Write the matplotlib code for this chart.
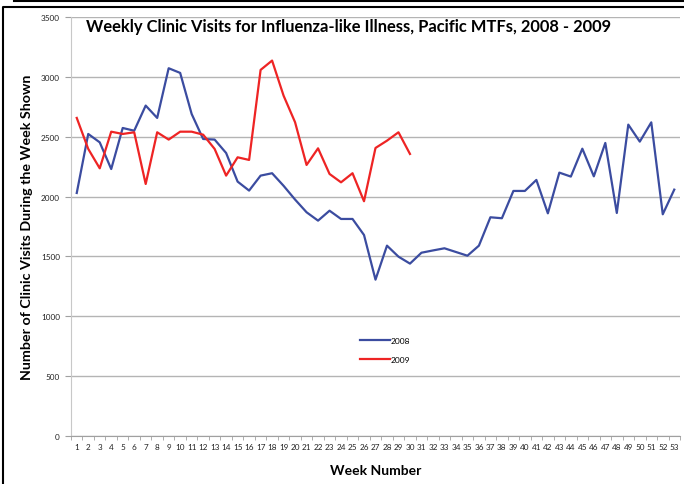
import matplotlib
matplotlib.use("Agg")
import matplotlib.pyplot as plt
from matplotlib.lines import Line2D

plt.rcParams["font.family"] = ["Lato", "DejaVu Sans"]

weeks = list(range(1, 54))
visits_2008 = [2030, 2523, 2453, 2230, 2573, 2550, 2760, 2657, 3072, 3033,
               2690, 2481, 2476, 2364, 2125, 2050, 2175, 2195, 2090, 1975,
               1869, 1799, 1882, 1813, 1813, 1679, 1306, 1590, 1498, 1440,
               1531, 1550, 1568, 1537, 1506, 1590, 1827, 1819, 2047, 2047,
               2139, 1860, 2200, 2167, 2400, 2169, 2448, 1863, 2601, 2459,
               2620, 1852, 2058]
weeks_2009 = list(range(1, 31))
visits_2009 = [2657, 2398, 2236, 2542, 2523, 2537, 2105, 2537, 2476, 2542,
               2542, 2517, 2398, 2175, 2328, 2306, 3058, 3136, 2843, 2621,
               2264, 2403, 2189, 2119, 2195, 1961, 2406, 2467, 2537, 2356]

W, H = 684, 485
fig = plt.figure(figsize=(W / 100, H / 100), dpi=100)
ax = fig.add_axes([71 / W, (H - 437) / H, 609 / W, 419 / H])

ax.plot(weeks, visits_2008, color="#3b4ca0", lw=1.6, label="2008")
ax.plot(weeks_2009, visits_2009, color="#ee2424", lw=1.6, label="2009")

ax.set_xlim(0.5, 53.5)
ax.set_ylim(0, 3500)
ax.set_yticks(range(0, 3501, 500))
ax.set_xticks(weeks)
ax.set_xticks([w + 0.5 for w in range(0, 54)], minor=True)
ax.tick_params(axis="x", which="major", length=0, labelsize=5.9, pad=5,
               labelcolor="#222222")
ax.tick_params(axis="x", which="minor", length=3, color="#a0a0a0", direction="out")
ax.tick_params(axis="y", length=4, color="#a0a0a0", labelsize=5.9, pad=4,
               labelcolor="#222222")

ax.grid(axis="y", color="#b4b4b4", lw=1)
ax.set_axisbelow(True)
for s in ("top", "right"):
    ax.spines[s].set_visible(False)
ax.spines["left"].set_color("#c8c8c8")
ax.spines["bottom"].set_color("#a0a0a0")

ax.set_xlabel("Week Number", fontsize=10, fontweight="bold", labelpad=10)
ax.set_ylabel("Number of Clinic Visits During the Week Shown", fontsize=10.3,
              fontweight="bold")
ax.yaxis.set_label_coords(-38 / 609, 0.50)
fig.text(86 / W, 1 - 27 / H, "Weekly Clinic Visits for Influenza-like Illness, Pacific MTFs, 2008 - 2009",
         fontsize=11.9, fontweight="bold", va="center", ha="left")

ax.legend(loc="upper left", bbox_to_anchor=((352 - 71) / 609, (437 - 330) / 419),
          frameon=False, fontsize=6, handlelength=3.6, labelspacing=1.5,
          handletextpad=0.1)

# screenshot frame
fig.add_artist(Line2D([14 / W, 1], [1 - 1.5 / H] * 2, color="black", lw=1.5,
                      transform=fig.transFigure))
fig.add_artist(Line2D([3 / W, 3 / W, 1], [0, 1 - 8 / H, 1 - 8 / H], color="black",
                      lw=1.5, transform=fig.transFigure))

fig.savefig("out.png", dpi=100)
